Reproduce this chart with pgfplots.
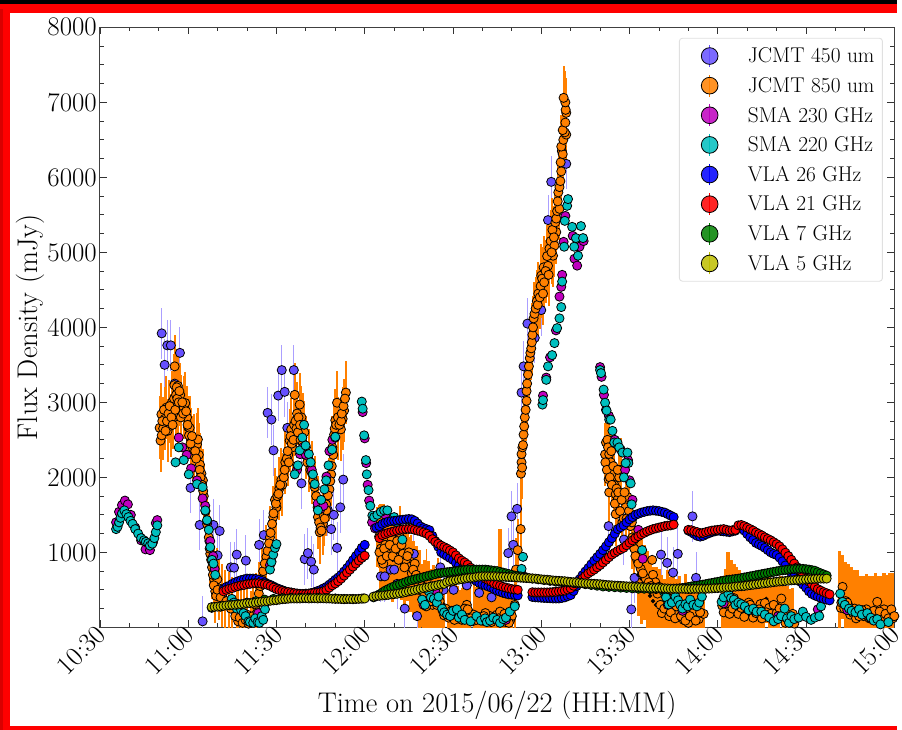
\documentclass[border=0pt]{standalone}
\usepackage{pgfplots}
\pgfplotsset{compat=1.18}
\definecolor{cA}{RGB}{102,80,255}
\definecolor{cB}{RGB}{255,128,0}
\definecolor{cC}{RGB}{191,0,191}
\definecolor{cD}{RGB}{0,191,191}
\definecolor{cE}{RGB}{0,0,255}
\definecolor{cF}{RGB}{255,0,0}
\definecolor{cG}{RGB}{0,128,0}
\definecolor{cH}{RGB}{191,191,0}
\pgfplotsset{
 mk/.style={only marks,mark=*,mark size=4.6pt,mark options={fill=#1,draw=black,line width=.8pt},
  legend image code/.code={\path (-24pt,0pt) (36pt,0pt);\draw[#1,line width=.8pt] (0pt,-11pt)--(0pt,11pt);\draw[black,fill=#1,line width=.8pt] (0pt,0pt) circle (8.4pt);}},
 pts/.style n args={3}{mk={#1},
  error bars/y dir=both,error bars/y fixed=#2,error bars/error mark=none,
  error bars/error bar style={color=#1,line width=#3}},
}
\begin{document}
\scalebox{1.00375}{%
\begin{tikzpicture}[x=1pt,y=1pt]
\path (0,0) rectangle (902,734);
\fill[red] (0,0) rectangle (902,4);
\fill[red] (0,0) rectangle (10,734);
\fill[red] (0,721) rectangle (902,730);
\fill[black] (0,730) rectangle (902,734);
\fill[red!85!black] (0,0) rectangle (3,725);
\begin{axis}[
 at={(100.5pt,103pt)},anchor=south west,scale only axis,width=799pt,height=603.5pt,
 xmin=0,xmax=270,ymin=0,ymax=8000,
 axis line style={line width=1pt,black!75},
 tick style={line width=.8pt,black!80},
 major tick length=7pt,minor tick length=4pt,
 tick align=inside,xtick pos=both,ytick pos=both,
 xtick={0,30,...,270},xticklabels={10:30,11:00,11:30,12:00,12:30,13:00,13:30,14:00,14:30,15:00},
 minor xtick={10,20,40,50,70,80,100,110,130,140,160,170,190,200,220,230,250,260},
 ytick={1000,2000,...,8000},
 minor ytick={250,500,750,1250,1500,1750,2250,2500,2750,3250,3500,3750,4250,4500,4750,5250,5500,5750,6250,6500,6750,7250,7500,7750},
 /pgf/number format/assume math mode=true,/pgf/number format/1000 sep={},
 tick label style={font=\fontsize{27}{27}\selectfont},
 yticklabel style={inner sep=2pt,xshift=-1pt},
 xticklabel style={rotate=45,anchor=east,inner sep=0pt,xshift=-1pt,yshift=-3pt},
 xlabel={Time on 2015/06/22 (HH:MM)},ylabel={Flux Density (mJy)},
 label style={font=\fontsize{28.6}{29}\selectfont},
 xlabel style={at={(axis description cs:0.5,0)},anchor=center,yshift=-79pt},
 ylabel style={at={(axis description cs:-0.0875,0.5)},anchor=center},
 legend style={at={(axis description cs:0.9856,0.9826)},anchor=north east,draw=black!12,line width=.9pt,rounded corners=3pt,fill=white,fill opacity=.85,text opacity=1,
  font=\fontsize{21.5}{22}\selectfont,row sep=7pt,inner xsep=6pt,inner ysep=6.5pt},
 legend cell align=left,
]
\addplot[pts={cA}{340}{1pt},error bars/error bar style={color=cA!55!white}] coordinates {(21,3920)(22,3500)(22.9,3760)(24.1,3760)(25.4,3250)(27.2,3660)(30.8,1860)(33.9,1365)(34.9,80)(37.2,1150)(38.6,1365)(40,960)(40.7,1285)(44.5,800)(45.6,795)(46.5,970)(49.6,890)(54.1,1100)(55.7,1230)(57,2860)(58.3,2770)(59,2360)(60.6,3090)(61.8,3430)(62.8,3140)(63.7,2660)(65.9,3430)(68.5,1920)(69.6,910)(70.7,990)(71.8,875)(72.7,770)(77.5,1560)(78.6,1310)(79.5,1500)(80.6,1060)(81.7,1600)(82.7,1970)(95.5,680)(96.8,680)(98.8,770)(100,770)(101,580)(103.6,250)(106.7,980)(107.8,150)(115.7,800)(116.8,500)(120.2,500)(124.7,560)(128.9,460)(133.1,400)(138.8,990)(139.9,1480)(141.8,1580)(140.5,1100)(143.3,3130)(144,3480)(145.3,4050)(150,4230)(147.8,3860)(153.4,5940)(152.3,5430)(158.5,6180)(172.9,1350)(178.1,1170)(181.7,660)(180.6,240)(190.7,970)(192.8,860)(194.8,730)(196.4,980)(201.4,1480)(202.6,660)};
\addlegendentry{JCMT 450 um}
\addplot[forget plot,only marks,mark=none,error bars/y dir=both,error bars/y explicit,error bars/error mark=none,error bars/error bar style={color=cB,line width=3.2pt}] coordinates {
(94.5,1200) +- (0,400)(95.5,1050) +- (0,600)(96.5,1100) +- (0,550)(97.5,1000) +- (0,520)(98.5,950) +- (0,500)(99.5,900) +- (0,560)(100.5,950) +- (0,500)(101.5,900) +- (0,500)(102.5,850) +- (0,480)(103.5,800) +- (0,560)(104.5,800) +- (0,450)(105.5,700) +- (0,500)(106.5,650) +- (0,500)(107.5,600) +- (0,480)(108.5,500) +- (0,530)(109.5,420) +- (0,420)(110.5,380) +- (0,520)(111.5,400) +- (0,480)(112.5,350) +- (0,430)(113.5,330) +- (0,500)(114.5,350) +- (0,400)(115.5,300) +- (0,420)(116.5,250) +- (0,350)
(118.5,150) +- (0,350)(119.5,160) +- (0,400)(120.5,170) +- (0,370)(121.5,150) +- (0,400)(122.5,120) +- (0,380)(123.5,130) +- (0,420)(124.5,200) +- (0,350)(125.5,180) +- (0,400)(128,120) +- (0,420)(129,130) +- (0,370)(130,100) +- (0,400)(131,180) +- (0,360)(132,150) +- (0,400)(133,130) +- (0,420)(134,120) +- (0,380)(135,160) +- (0,380)(136,210) +- (0,1100)(137,100) +- (0,400)(138,80) +- (0,400)(139,100) +- (0,380)(140,150) +- (0,380)
(183,700) +- (0,550)(184,650) +- (0,600)(185,600) +- (0,500)(186,500) +- (0,520)(187,420) +- (0,500)(188,350) +- (0,450)(189,300) +- (0,500)(190,300) +- (0,480)(191,200) +- (0,500)(192,250) +- (0,400)(193,300) +- (0,470)(194,250) +- (0,420)(195,250) +- (0,520)(196,200) +- (0,450)(197,190) +- (0,500)(198,130) +- (0,420)(199,150) +- (0,560)(200,100) +- (0,500)(201,150) +- (0,460)(202,200) +- (0,480)(203,130) +- (0,520)(204,170) +- (0,450)(205,180) +- (0,300)
(211.5,290) +- (0,400)(212.5,380) +- (0,400)(213.5,300) +- (0,700)(214.5,300) +- (0,600)(215.5,390) +- (0,460)(216.5,260) +- (0,540)(217.5,320) +- (0,450)(218.5,200) +- (0,500)(219.5,250) +- (0,450)(220.5,330) +- (0,400)(221.5,200) +- (0,500)(222.5,180) +- (0,500)(223.5,250) +- (0,450)(224.5,310) +- (0,420)(225.5,300) +- (0,380)(226.5,380) +- (0,320)(227.5,260) +- (0,420)(228.5,130) +- (0,500)(229.5,240) +- (0,400)(230.5,300) +- (0,350)(231.5,380) +- (0,300)(232.5,150) +- (0,400)(233.5,100) +- (0,450)(234.5,80) +- (0,430)(235.5,180) +- (0,340)
(251.5,260) +- (0,760)(252.5,540) +- (0,430)(253.5,350) +- (0,520)(254.5,280) +- (0,560)(255.5,200) +- (0,600)(256.5,250) +- (0,520)(257.5,170) +- (0,590)(258.5,220) +- (0,470)(259.5,150) +- (0,540)(260.5,240) +- (0,470)(261.5,120) +- (0,560)(262.5,200) +- (0,480)(263.5,150) +- (0,570)(264.5,340) +- (0,340)(265.5,170) +- (0,520)(266.5,240) +- (0,480)(267.5,100) +- (0,600)(268.5,190) +- (0,540)(269.5,120) +- (0,600)};
\addplot[pts={cB}{420}{2pt}] coordinates {(20.6,2490)(20.3,2660)(20.9,2840)(21.5,2650)(22,2780)(22.6,2930)(23,2620)(23.5,2880)(24,2690)(24.5,3000)(25,2800)(25.3,3230)(26,2930)(26.5,3220)(25.4,3480)(26.1,3200)(26.6,2860)(27.3,3100)(27.7,2950)(28.5,2930)(29,2990)(29.6,2800)(30,2670)(30.5,2660)(31,2500)(31.5,2400)(32,2420)(33,2440)(33.3,2505)(33.6,2300)(34,2170)(34.5,2050)(35,1960)(35.3,1750)(35.9,1550)(36.4,1380)(37,1200)(37.5,980)(38.1,800)(38.8,640)(39.2,480)(39.9,640)(40.5,520)(41.5,420)(42.5,350)(44,320)(45,250)(46.5,210)(47,80)(48,180)(49,120)(50,170)(51.5,60)(52,150)(53,300)(54,450)(55,640)(56.6,940)(57.8,1200)(58.9,1470)(59.5,1700)(60,1600)(61,1850)(61.7,1970)(62,1900)(63,2200)(64,2300)(64.5,2490)(65,2640)(65.5,2400)(66,2700)(66.2,3100)(67,2850)(67.9,2970)(68.5,2800)(68.9,2700)(69.5,2600)(70,2400)(71,2230)(72,2060)(73,1870)(74,1600)(74.1,1470)(74.7,1270)(75.8,1380)(76,1500)(76.9,1640)(78,1840)(78.6,2040)(79,2400)(79.6,2570)(80,2760)(80.6,2995)(81,2650)(81.9,2640)(82.5,2780)(83,2890)(83.6,3130)
(94.9,1210)(96.3,850)(98,1000)(100,1030)(102,1200)(104,900)(105.6,810)(108,600)(109.9,380)(111,620)(113,300)(115,500)(117,160)(119,150)(121,160)(123,100)(125.5,200)(127,170)(130,90)(132.6,150)(135,170)(137,90)(139.5,100)(141,300)(141.4,770)(142,1030)(143,1310)
(143.1,2050)(143.3,2200)(143.5,2130)(143.3,2310)(143.6,2400)(143.8,2430)(144,2570)(144.2,2680)(144.4,2800)(144.7,2900)(145,3020)(145,3150)(145.2,3250)(145.5,3370)(145.8,3480)(146.1,3590)(146.3,3660)(146.6,3720)(146.8,3800)(147,3900)(147.2,4000)(147.4,4120)(147.7,4180)(148.1,4250)(148.5,4350)(148.8,4300)(149,4450)(149.5,4400)(149.8,4550)(150.6,4450)(150,4690)(150.3,4650)(150.8,4800)(152.3,4820)(151,4600)(151.5,4750)(154,4955)(152.5,4700)(152,4950)(152.8,5050)(153.2,5150)(154.5,5090)(155.1,5270)(153.5,5000)(153.8,5300)(154.3,5200)(154.8,5400)(155.1,5450)(155.4,5550)(156.2,5580)(155.6,5680)(155.8,5800)(156.2,5870)(156.5,5950)(156.8,6080)(156.6,6200)(157,6350)(157.3,6310)(156.8,6410)(157.5,6500)(158.5,6570)(158,6600)(157.3,6630)(158.2,6730)(158.5,6860)(158.3,6900)(158.2,7000)(157.6,7060)
(172,2465)(171.7,2306)(172.5,2500)(173.1,2310)(172.9,1974)(173.6,2200)(174.2,2050)(173.1,1800)(174.8,1900)(175.3,1776)(175.9,1700)(176.5,2000)(177,2100)(175.3,1510)(177.6,1405)(178.7,1600)(179.3,1740)(179.8,1550)(181,1200)(181.6,1050)};
\addlegendentry{JCMT 850 um}
\addplot[forget plot,mk=cB] coordinates {(21,2560)(21.2,2750)(21.8,2900)(22.3,2620)(22.8,2750)(23.3,2850)(23.7,2950)(24.3,2800)(24.7,2700)(25.2,3050)(25.6,2900)(25.9,3100)(26.3,3050)(26.8,3000)(27,3150)(27.5,2800)(28,3000)(28.3,2850)(29.3,2880)(29.8,2700)(30.3,2560)(30.8,2450)(31.3,2550)(31.8,2300)(32.4,2350)(32.7,2250)(33.9,2100)(34.2,2000)(34.7,1900)(35.1,1820)(37.3,1050)(37.8,900)(38.4,700)(38.7,560)(39.5,420)(40,500)(41,400)(42,300)(43,350)(44.5,250)(46,150)(47.5,130)(48.5,60)(49.5,100)(50.5,50)(53.5,200)(54.5,550)(55.5,750)(56,850)(57,1020)(57.5,1120)(58,1260)(58.5,1380)(59,1520)(59.8,1650)(60.3,1750)(60.7,1780)(61.3,1900)(62.5,2000)(62.8,2100)(63.5,2250)(63.8,2350)(64.2,2200)(64.8,2550)(65.2,2450)(65.8,2500)(66.5,2750)(66.8,2650)(67.3,2600)(67.5,2800)(68,2700)(68.2,2500)(69,2450)(69.8,2300)(70.5,2200)(71.5,2100)(72.5,1950)(73.5,1750)(74.5,1400)(75,1330)(75.3,1290)(76.4,1450)(77,1560)(77.5,1760)(78.3,1950)(78.8,2150)(79.3,2300)(79.8,2650)(80.3,2700)(80.9,2800)(81.4,2700)(82,2750)(82.2,2850)(82.8,2950)(83.3,3050)
(95.5,1050)(97,1100)(99,1200)(101,1150)(103,980)(105,1000)(107,850)(108.5,500)(109,650)(110.9,280)(112,450)(114,370)(116,280)(118,170)(120,170)(122,130)(124.7,300)(126,120)(129,130)(131,190)(134,120)(136,210)(138,70)(140,150)
(95,1000)(95.8,900)(96.6,1050)(97.5,950)(98.5,1100)(99.5,950)(100.5,1050)(101.5,900)(102.5,1100)(103.5,800)(104.5,950)(106,720)(106.5,770)(107.5,700)(109.5,550)(110.3,450)(111.5,500)(112.5,350)(113.5,420)(114.5,300)(115.5,350)(116.5,220)(117.5,250)(118.5,130)(119.5,220)(120.5,100)(121.5,220)(122.5,160)(124,250)(125,240)(126.5,80)(128,100)(130.5,150)(133,70)(135.5,120)(137.5,180)(139,60)
(182.6,900)(183.8,780)(185.5,650)(187.7,900)(188,700)(188.8,600)(190,540)(191,190)(192.8,400)(194.5,300)(196.7,190)(198.4,100)(200,60)(201.8,200)(203.5,110)(205.2,180)
(171.8,2200)(172.3,2100)(172.7,2400)(173.3,2000)(173.8,2350)(174,1900)(174.5,2150)(175,1650)(175.6,1850)(176,2100)(176.2,1800)(176.8,1550)(177.3,1700)(178,1450)(178.3,1800)(179,1450)(180.3,1350)(180.8,1400)(181.3,1150)(182,950)(183,850)(184.5,720)(186.5,600)(187.3,550)(189.5,450)(190.5,300)(191.8,250)(193.5,150)(194,200)(195.5,120)(196,280)(197.5,150)(199,90)(200.5,150)(202.5,90)(204,200)
(211.5,290)(212.5,380)(213.6,260)(214.5,300)(215.5,390)(216.5,260)(217.5,320)(218.5,200)(219.5,250)(220.5,330)(221.5,200)(222.5,180)(223.5,250)(224.5,310)(226,325)(227.5,260)(228.5,130)(229.5,240)(231.6,384)(232.5,150)(233.5,100)(234.5,60)(235.5,180)
(212,200)(213,320)(214,180)(215,250)(216,340)(217,180)(218,260)(219,140)(220,280)(221,300)(222,130)(223,190)(224,240)(225,120)(226.5,200)(228,180)(229,300)(230,190)(231,250)(233,60)(235,110)(236,50)
(251.8,260)(252.4,540)(253.5,350)(254.5,280)(255.5,200)(256.5,250)(257.5,170)(258.5,220)(259.5,150)(260.5,240)(261.5,120)(262.5,200)(263.5,150)(264.2,340)(265.5,170)(266.5,240)(267.5,100)(268.5,190)(269.5,120)
(252,330)(253,250)(254,330)(255,170)(256,190)(257,120)(258,150)(259,230)(260,170)(261,160)(262,120)(263,220)(264,90)(265,210)(266,110)(267,180)(268,120)(269,240)(270,150)};
\addplot[pts={cC}{60}{.8pt}] coordinates {(5.5,1400)(6.5,1540)(7.5,1630)(8.5,1690)(9.5,1640)(10.5,1500)(12,1330)(14,1160)(15.5,1040)(17,1030)(18,1130)(19,1390)(19.5,1430)(26.8,2530)(28,2400)(29.5,2300)(31,2120)(33,1960)(34.9,1720)(35.8,1620)(36.5,1420)(37.5,1150)(38.5,950)(39,780)(53.8,190)(57.8,830)(58.3,880)(67,2100)(68,2310)(69,2400)(70,2300)(72,2100)(74,1650)(75,1580)(76,1620)(77,2010)(78,2350)(79,2500)(80,2530)(89.3,2870)(90,2520)(90.5,2190)(91,1900)(91.5,1690)(92.5,1400)(93.5,1320)(95,1310)(97,1500)(110,300)(114,480)(138,100)(143.3,720)(150.6,3090)(151.7,3330)(153,3600)(155,3960)(156.2,4410)(156.8,4540)(157.1,4700)(157.6,5140)(158.2,5485)(160.7,5220)(161.3,4915)(162.2,4823)(163,5075)(164.4,5150)(170,3470)(170.5,3340)(171.3,3100)(172,2900)(173,2820)(175,2500)(177,2370)(178.5,2100)(179.5,2230)(180,1960)(181,1700)(183,1300)(184.5,914)(193,300)(198,220)(212,320)(222,230)(230.5,150)(244,240)(254,230)(262,120)};
\addlegendentry{SMA 230 GHz}
\addplot[pts={cD}{60}{.8pt}] coordinates {(5.5,1310)(6,1340)(6.5,1400)(7,1460)(7.5,1520)(8.3,1560)(9,1510)(9.7,1470)(10.4,1420)(11.1,1380)(12,1310)(13,1250)(14,1190)(15,1160)(15.6,1140)(16.4,1120)(17,1090)(17.8,1115)(18.5,1190)(19,1270)(19.5,1360)
(25.7,2200)(26.8,2400)(28.5,2230)(30.2,2040)(33,1910)(34.9,1870)(35.8,1560)(36.4,1430)(37,1300)(37.5,1070)(38.1,900)(38.6,850)(39.2,700)(44.8,380)(45.5,330)(46.5,250)(47.1,290)(48,230)(48.8,190)(49.5,150)(50.5,80)(51,70)(52.1,60)(52.8,120)(53.6,70)(54.2,60)(55,150)(55.5,100)(56.1,240)(57.8,770)(58.3,870)(58.9,970)(59.5,1060)(60,1110)
(66.2,2040)(67.3,2160)(67.9,2360)(68.8,2530)(69.4,2700)(69.9,2425)(71,2310)(71.6,2200)(72.4,2040)(73,1910)(74.1,1560)(75.2,1700)(76.3,1840)(76.9,1960)(77.7,2160)(78.9,2370)(80,2540)
(89,3010)(89.3,2915)(89.8,2560)(90.4,2230)(90.7,2040)(91.3,1830)(91.9,1620)(92.6,1490)(93.2,1470)(94.3,1500)(95.5,1540)(96.6,1560)(97.7,1560)(100,1470)(101,1400)(102.8,1170)(109.5,370)(110.5,300)(111.8,480)(112.5,400)(113.5,380)(114.5,330)(115.1,410)(116.3,250)(117,200)(118,170)(119,150)(120,220)(121.3,240)(122,130)(123,170)(124,100)(126,80)(128,150)(129.5,90)(130.9,120)(131.5,70)(132.6,90)(133.7,130)(135,100)(136,60)(137.1,110)(138,130)(139.3,210)(141,280)(143.3,780)(143.8,940)
(150.4,2970)(150.6,3030)(151.7,3300)(152.3,3480)(153.7,3630)(154.5,3790)(155.4,3990)(156.2,4120)(156.8,4270)(157.1,4610)(157.8,5075)(158,5420)(158.8,5620)(159.1,5710)(160.5,5340)(161.2,5075)(161.8,5190)(162.5,4955)(163.5,5350)(164.2,5190)
(170,3430)(170.3,3390)(171.2,3170)(171.7,2995)(172.2,2890)(173.1,2770)(173.6,2770)(174.2,2620)(174.8,2465)(175.9,2465)(176.5,2400)(177.6,2330)(179.3,2330)(179.6,2190)(178.7,2190)(178.1,2000)(180.4,1920)(180.7,1640)(181.2,1470)(182.1,1200)(184.3,1030)
(191.6,480)(192.4,400)(193.3,305)(194.4,330)(195.6,410)(196.5,360)(197.2,300)(198,250)(199,310)(199.8,280)(200.6,370)(201.7,300)(202.9,280)(203.7,330)(204.6,410)
(211.3,340)(212,400)(213.6,450)(214.5,390)(215.5,370)(216,300)(217,330)(218,310)(219.2,280)(220.5,230)(222,250)(223.2,210)(224.8,210)(226,170)(227.5,130)(229,80)(230.5,110)(231.5,150)(232.7,250)(233.5,120)(234.2,60)(235,150)(236,110)(237.5,130)(238.9,210)(240,140)(241.7,100)(243,130)(244.5,150)(245.1,280)
(251.6,450)(252.4,340)(253.2,300)(254.6,250)(255.5,220)(256.8,200)(258,240)(259,170)(260.8,190)(262,130)(263,90)(264.2,110)(265.3,40)(268,70)};
\addlegendentry{SMA 220 GHz}
\addplot[mk=cE] coordinates {(42,510)(43,540)(44,555)(45,580)(46,600)(47,615)(48,630)(49,640)(50,650)(51,650)(52,650)(53,645)(54,635)(55,620)(56,600)(57,580)(58,565)(59,545)(60,525)(61,510)(62,495)(63,480)(64,470)(65,465)(66,455)(67,450)(68,445)(69,445)(70,450)(71,450)(72,460)(73,470)(74,485)(75,500)(76,520)(77,540)(78,570)(79,600)(80,635)(81,665)(82,700)(83,745)(84,790)(85,840)(86,895)(87,950)(88,1000)(89,1060)(90,1100)
(94,1330)(95,1350)(96,1380)(97,1395)(98,1410)(99,1415)(100,1420)(101,1425)(102,1430)(103,1435)(104,1440)(105,1445)(106,1440)(107,1420)(108,1385)(109,1345)(110,1325)(111,1310)(112,1295)(113,1220)(114,1150)(115,1075)(116,1000)(117,975)(118,950)(119,925)(120,900)(121,860)(122,820)(123,775)(124,730)(125,700)(126,670)(127,640)(128,615)(129,590)(130,575)(131,560)(132,545)(133,530)(134,510)(135,490)(136,475)(137,460)(138,450)(139,440)(140,435)(141,430)(142,425)
(147,405)(148,400)(149,398)(150,395)(151,392)(152,390)(153,388)(154,385)(155,385)(156,385)(157,392)(158,400)(159,415)(160,430)(161,485)(162,550)(163,640)(164,695)(165,745)(166,790)(167,840)(168,890)(169,935)(170,980)(171,1030)(172,1080)(173,1135)(174,1190)(175,1250)(176,1310)(177,1335)(178,1360)(179,1400)(180,1440)(181,1470)(182,1500)(183,1515)(184,1530)(185,1540)(186,1550)(187,1555)(188,1560)(189,1555)(190,1550)(191,1540)(192,1530)(193,1510)(194,1490)(195,1470)
(200,1290)(201,1270)(202,1245)(203,1220)(204,1210)(205,1220)(206,1240)(207,1255)(208,1270)(209,1280)(210,1290)(211,1285)(212,1280)(213,1275)(214,1270)(215,1280)(216,1290)(217,1340)(218,1330)(219,1290)(220,1245)(221,1200)(222,1165)(223,1125)(224,1105)(225,1085)(226,1060)(227,1030)(228,1000)(229,980)(230,965)(231,930)(232,880)(233,825)(234,770)(235,725)(236,680)(237,645)(238,610)(239,570)(240,530)(241,480)(242,445)(243,425)(244,410)(245,395)(246,380)(247,370)(248,360)};
\addlegendentry{VLA 26 GHz}
\addplot[mk=cF] coordinates {(42,480)(43,500)(44,515)(45,525)(46,540)(47,550)(48,560)(49,565)(50,575)(51,580)(52,585)(53,588)(54,588)(55,580)(56,575)(57,565)(58,550)(59,530)(60,510)(61,495)(62,485)(63,475)(64,470)(65,462)(66,455)(67,450)(68,446)(69,445)(70,445)(71,448)(72,455)(73,460)(74,463)(75,470)(76,480)(77,500)(78,530)(79,560)(80,585)(81,615)(82,650)(83,690)(84,730)(85,770)(86,810)(87,850)(88,890)(89,925)(90,955)
(95,1190)(96,1230)(97,1245)(98,1260)(99,1270)(100,1280)(101,1290)(102,1300)(103,1305)(104,1310)(105,1312)(106,1310)(107,1300)(108,1290)(109,1280)(110,1265)(111,1250)(112,1220)(113,1175)(114,1140)(115,1115)(116,1090)(117,1070)(118,1050)(119,1025)(120,1000)(121,960)(122,920)(123,890)(124,865)(125,835)(126,795)(127,760)(128,740)(129,720)(130,685)(131,650)(132,630)(133,610)(134,585)(135,570)(136,555)(137,540)(138,530)(139,520)(140,510)(141,505)(142,500)
(147,468)(148,465)(149,465)(150,465)(151,465)(152,465)(153,467)(154,470)(155,475)(156,480)(157,485)(158,490)(159,505)(160,520)(161,555)(162,585)(163,610)(164,650)(165,685)(166,720)(167,745)(168,770)(169,800)(170,830)(171,865)(172,900)(173,935)(174,970)(175,995)(176,1020)(177,1040)(178,1060)(179,1095)(180,1130)(181,1160)(182,1190)(183,1215)(184,1240)(185,1260)(186,1280)(187,1295)(188,1310)(189,1320)(190,1330)(191,1340)(192,1350)(193,1355)(194,1360)(195,1370)
(200,1300)(201,1295)(202,1280)(203,1270)(204,1255)(205,1260)(206,1270)(207,1280)(208,1290)(209,1295)(210,1300)(211,1305)(212,1310)(213,1300)(214,1290)(215,1295)(216,1300)(217,1360)(218,1365)(219,1350)(220,1330)(221,1310)(222,1290)(223,1265)(224,1245)(225,1225)(226,1200)(227,1180)(228,1160)(229,1135)(230,1110)(231,1080)(232,1040)(233,995)(234,950)(235,900)(236,850)(237,800)(238,750)(239,700)(240,650)(241,610)(242,575)(243,540)(244,510)(245,490)(246,470)(247,455)(248,440)};
\addlegendentry{VLA 21 GHz}
\addplot[mk=cG] coordinates {(38,260)(41,275)(44,295)(47,310)(50,330)(53,350)(56,370)(59,380)(62,390)(65,395)(68,395)(71,395)(74,395)(77,390)(80,385)(83,380)(86,380)(89.5,385)
(93,400)(94,420)(95,440)(96,465)(97,490)(98,510)(99,530)(100,545)(101,560)(102,575)(103,590)(104,605)(105,620)(106,630)(107,640)(108,650)(109,660)(110,670)(111,680)(112,690)(113,700)(114,710)(115,720)(116,725)(117,730)(118,735)(119,740)(120,745)(121,750)(122,755)(123,760)(124,765)(125,770)(126,770)(127,770)(128,770)(129,770)(130,770)(131,770)(132,765)(133,760)(134,755)(135,750)(136,740)(137,730)(138,720)(139,710)(140,700)(141,690)(142,685)(143,680)(144,672)(145,665)(147,650)(149,640)(151,630)(153,620)(155,610)(157,605)(159,600)(161,590)(163,585)(165,575)(167,565)(169,555)(171,545)(173,540)(175,535)(177,530)(179,525)(181,520)(183,515)(185,515)(187,510)(189,510)(191,510)(193,510)
(195,515)(196,517)(197,520)(198,525)(199,530)(200,537)(201,545)(202,550)(203,555)(204,562)(205,570)(206,577)(207,585)(208,592)(209,600)(210,607)(211,615)(212,622)(213,630)(214,635)(215,640)(216,645)(217,650)(218,657)(219,665)(220,672)(221,680)(222,687)(223,695)(224,702)(225,710)(226,717)(227,725)(228,732)(229,740)(230,747)(231,755)(232,760)(233,765)(234,770)(235,775)(236,778)(237,780)(238,780)(239,780)(240,775)(241,770)(242,762)(243,755)(244,737)(245,720)(246,705)(247,690)};
\addlegendentry{VLA 7 GHz}
\addplot[mk=cH] coordinates {(38,270)(39,273)(40,277)(41,280)(42,287)(43,292)(44,295)(45,298)(46,302)(47,305)(48,308)(49,315)(50,320)(51,323)(52,327)(53,330)(54,337)(55,342)(56,345)(57,348)(58,355)(59,360)(60,363)(61,370)(62,375)(63,378)(64,382)(65,385)(66,385)(67,385)(68,385)(69,388)(70,388)(71,385)(72,388)(73,388)(74,385)(75,388)(76,387)(77,385)(78,385)(79,382)(80,380)(81,380)(82,378)(83,375)(84,378)(85,378)(86,375)(87,378)(88,380)(89,383)(90,385)
(93,410)(94,417)(95,421)(96,425)(97,428)(98,433)(99,440)(100,443)(101,448)(102,455)(103,462)(104,470)(105,480)(106,487)(107,495)(108,505)(109,515)(110,523)(111,530)(112,540)(113,548)(114,555)(115,565)(116,573)(117,580)(118,605)(119,617)(120,623)(121,630)(122,637)(123,643)(124,650)(125,657)(126,662)(127,665)(128,672)(129,677)(130,680)(131,680)(132,680)(133,680)(134,680)(135,678)(136,675)(137,675)(138,673)(139,670)(140,670)(141,668)(142,665)(143,662)(144,660)(145,657)(146,655)(147,652)(148,650)(149,645)(150,640)(151,637)(152,635)(153,630)(154,625)(155,622)(156,620)(157,617)(158,615)(159,610)(160,605)(161,602)(162,600)(163,595)(164,590)(165,587)(166,585)(167,582)(168,580)(169,577)(170,575)(171,570)(172,565)(173,562)(174,560)(175,557)(176,555)(177,552)(178,550)(179,547)(180,545)(181,542)(182,540)(183,537)(184,535)(185,532)(186,530)(187,527)(188,525)(189,525)(190,525)(191,522)(192,520)(193,518)(194,516)(195,515)(196,515)(197,515)(198,515)(199,513)(200,511)(201,511)(202,514)(203,515)(204,515)(205,515)(206,515)(207,517)(208,519)(209,522)(210,524)(211,527)(212,529)(213,532)(214,534)(215,538)(216,543)(217,547)(218,549)(219,552)(220,558)(221,563)(222,568)(223,573)(224,578)(225,583)(226,588)(227,593)(228,598)(229,603)(230,608)(231,612)(232,614)(233,618)(234,623)(235,627)(236,629)(237,632)(238,634)(239,637)(240,639)(241,642)(242,644)(243,647)(244,649)(245,650)(246,650)(247,650)};
\addlegendentry{VLA 5 GHz}
\end{axis}
\end{tikzpicture}}
\end{document}
